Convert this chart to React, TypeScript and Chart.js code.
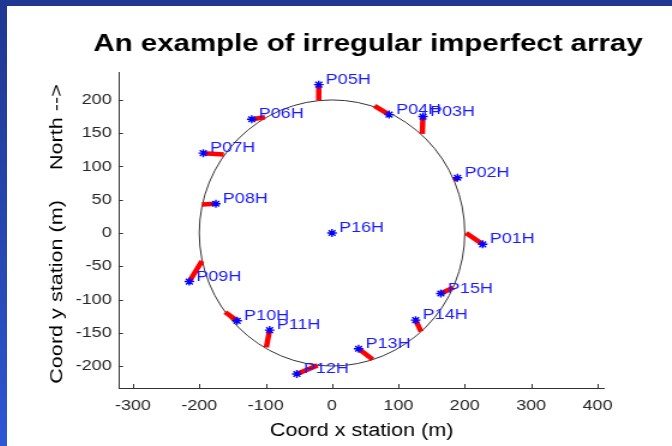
import React, { useEffect, useRef } from 'react';
import { Chart, registerables } from 'chart.js';

Chart.register(...registerables);

// ---------- data ----------
const STATION_NAMES = ['P01H', 'P02H', 'P03H', 'P04H', 'P05H', 'P06H', 'P07H', 'P08H', 'P09H', 'P10H', 'P11H', 'P12H', 'P13H', 'P14H', 'P15H', 'P16H'];
// actual (imperfect) station positions
const STATION_X = [227, 189, 137, 86, -20, -121, -194, -175, -215, -143, -94, -53, 40, 126, 164, 0];
const STATION_Y = [-17, 83, 175, 178, 223, 171, 120, 44, -73, -132, -146, -212, -174, -131, -91, 0];
// nominal positions on the circle (start of the red offset segments); null = none
const NOMINAL_X: (number | null)[] = [202, 184, 136, 64, -20, -101, -163, -196, -196, -161, -99, -22, 61, 134, 183, null];
const NOMINAL_Y: (number | null)[] = [0, 79, 149, 191, 199, 174, 118, 43, -42, -119, -172, -199, -190, -148, -82, null];

const CIRCLE_CENTER = [0, 0];
const CIRCLE_RADIUS = 200;

const X_TICKS = [-300, -200, -100, 0, 100, 200, 300, 400];
const Y_TICKS = [-200, -150, -100, -50, 0, 50, 100, 150, 200];
const X_LIMITS = [-321, 410];
const Y_LIMITS = [-233, 242];

const TITLE = 'An example of irregular imperfect array';
const X_TITLE = 'Coord x station (m)';
const Y_TITLE = 'Coord y station (m)     North -->';

// ---------- layout / style ----------
const FONT = "'Liberation Sans', Arial, Helvetica, sans-serif";
const STRETCH = 1.2; // wide MATLAB-like lettering
const PANEL_LEFT = 7;
const PANEL_TOP = 6;
const DISP_W = 672 - PANEL_LEFT;
const DISP_H = 446 - PANEL_TOP;
const CANVAS_W = Math.round(DISP_W / STRETCH);
const CANVAS_H = DISP_H;

const customPlugin = {
  id: 'custom',
  beforeDatasetsDraw(chart: any) {
    const { ctx, scales } = chart;
    const xs = scales.x, ys = scales.y;
    const cx = xs.getPixelForValue(CIRCLE_CENTER[0]);
    const cy = ys.getPixelForValue(CIRCLE_CENTER[1]);
    const rx = Math.abs(xs.getPixelForValue(CIRCLE_CENTER[0] + CIRCLE_RADIUS) - cx);
    const ry = Math.abs(ys.getPixelForValue(CIRCLE_CENTER[1] + CIRCLE_RADIUS) - cy);
    ctx.save();
    ctx.beginPath();
    ctx.ellipse(cx, cy, rx, ry, 0, 0, Math.PI * 2);
    ctx.strokeStyle = '#333';
    ctx.lineWidth = 1;
    ctx.stroke();
    ctx.restore();
  },
  afterDatasetsDraw(chart: any) {
    const { ctx, scales } = chart;
    const xs = scales.x, ys = scales.y;
    ctx.save();
    ctx.font = `15px ${FONT}`;
    ctx.fillStyle = '#1a1aff';
    ctx.textAlign = 'left';
    ctx.textBaseline = 'middle';
    STATION_NAMES.forEach((name, i) => {
      const px = xs.getPixelForValue(STATION_X[i]) + 7 / STRETCH;
      const py = ys.getPixelForValue(STATION_Y[i]) - 5;
      ctx.fillText(name, px, py);
    });
    ctx.restore();
  },
  afterDraw(chart: any) {
    const { ctx, scales, chartArea } = chart;
    const xs = scales.x, ys = scales.y;
    ctx.save();
    ctx.strokeStyle = '#333';
    ctx.lineWidth = 1;
    ctx.beginPath();
    X_TICKS.forEach((v) => {
      const px = Math.round(xs.getPixelForValue(v)) + 0.5;
      ctx.moveTo(px, chartArea.bottom);
      ctx.lineTo(px, chartArea.bottom - 4);
    });
    Y_TICKS.forEach((v) => {
      const py = Math.round(ys.getPixelForValue(v)) + 0.5;
      ctx.moveTo(chartArea.left, py);
      ctx.lineTo(chartArea.left + 4 / STRETCH, py);
    });
    ctx.stroke();
    // rotated y title (compensate the horizontal stretch)
    ctx.translate(41.7, (chartArea.top + chartArea.bottom) / 2 + 4);
    ctx.rotate(-Math.PI / 2);
    ctx.scale(STRETCH, 1 / STRETCH);
    ctx.font = `18px ${FONT}`;
    ctx.fillStyle = '#000';
    ctx.textAlign = 'center';
    ctx.textBaseline = 'middle';
    ctx.fillText(Y_TITLE, 0, 0);
    ctx.restore();
  },
};

export default function App() {
  const canvasRef = useRef<HTMLCanvasElement | null>(null);

  useEffect(() => {
    const canvas = canvasRef.current;
    if (!canvas) return;

    const datasets: any[] = [
      {
        label: 'stations',
        data: STATION_X.map((x, i) => ({ x, y: STATION_Y[i] })),
        pointStyle: 'star',
        pointRadius: 4,
        pointBorderColor: '#0000ff',
        pointBorderWidth: 1.4,
        borderColor: '#0000ff',
        backgroundColor: '#0000ff',
        showLine: false,
        order: 0,
      },
    ];
    STATION_NAMES.forEach((name, i) => {
      const nx = NOMINAL_X[i];
      const ny = NOMINAL_Y[i];
      if (nx === null || ny === null) return;
      datasets.push({
        label: name + ' offset',
        data: [
          { x: nx, y: ny },
          { x: STATION_X[i], y: STATION_Y[i] },
        ],
        showLine: true,
        borderColor: '#ff0000',
        borderWidth: 4.5,
        pointRadius: 0,
        order: 1,
      });
    });

    const chart = new Chart(canvas, {
      type: 'scatter',
      data: { datasets },
      plugins: [customPlugin],
      options: {
        responsive: false,
        animation: false,
        events: [],
        layout: { padding: { left: 47.6, right: 0, top: 0, bottom: 0 } },
        plugins: {
          legend: { display: false },
          tooltip: { enabled: false },
          title: {
            display: true,
            text: TITLE,
            fullSize: true,
            color: '#000',
            font: { family: FONT, size: 24.5, weight: 'bold' },
            padding: { top: 24, bottom: 12.6 },
          },
        },
        scales: {
          x: {
            type: 'linear',
            position: 'bottom',
            min: X_LIMITS[0],
            max: X_LIMITS[1],
            afterBuildTicks: (s: any) => {
              s.ticks = X_TICKS.map((v) => ({ value: v }));
            },
            afterFit: (s: any) => {
              s.height = 58;
            },
            grid: { display: true, drawOnChartArea: false, drawTicks: false },
            border: { display: true, color: '#333', width: 1 },
            ticks: {
              font: { family: FONT, size: 15 },
              color: '#262626',
              padding: 9,
              maxRotation: 0,
              autoSkip: false,
            },
            title: {
              display: true,
              text: X_TITLE,
              color: '#000',
              font: { family: FONT, size: 18 },
              padding: { top: 0, bottom: 4.2 },
            },
          },
          y: {
            type: 'linear',
            position: 'left',
            min: Y_LIMITS[0],
            max: Y_LIMITS[1],
            afterBuildTicks: (s: any) => {
              s.ticks = Y_TICKS.map((v) => ({ value: v }));
            },
            afterFit: (s: any) => {
              s.width = 93.3 - 47.6;
            },
            grid: { display: true, drawOnChartArea: false, drawTicks: false },
            border: { display: true, color: '#333', width: 1 },
            ticks: {
              font: { family: FONT, size: 15 },
              color: '#262626',
              padding: 6,
              autoSkip: false,
            },
            title: { display: false },
          },
          // empty right-hand gutter (no axis line, no ticks) to keep the plot box where it is
          gutter: {
            type: 'linear',
            position: 'right',
            display: true,
            min: Y_LIMITS[0],
            max: Y_LIMITS[1],
            afterFit: (s: any) => {
              s.width = 56.5;
            },
            grid: { display: false, drawTicks: false },
            border: { display: false },
            ticks: { display: false },
            title: { display: false },
          },
        },
      } as any,
    });

    return () => {
      chart.destroy();
    };
  }, []);

  return (
    <div
      style={{
        position: 'fixed',
        left: 0,
        top: 0,
        width: 672,
        height: 446,
        overflow: 'hidden',
        background: 'linear-gradient(180deg, #1f3792 0%, #2849b4 60%, #2e57d4 100%)',
      }}
    >
      <canvas
        ref={canvasRef}
        width={CANVAS_W}
        height={CANVAS_H}
        style={{
          position: 'absolute',
          left: PANEL_LEFT,
          top: PANEL_TOP,
          width: `${DISP_W}px`,
          height: `${DISP_H}px`,
          background: '#ffffff',
        }}
      />
    </div>
  );
}
